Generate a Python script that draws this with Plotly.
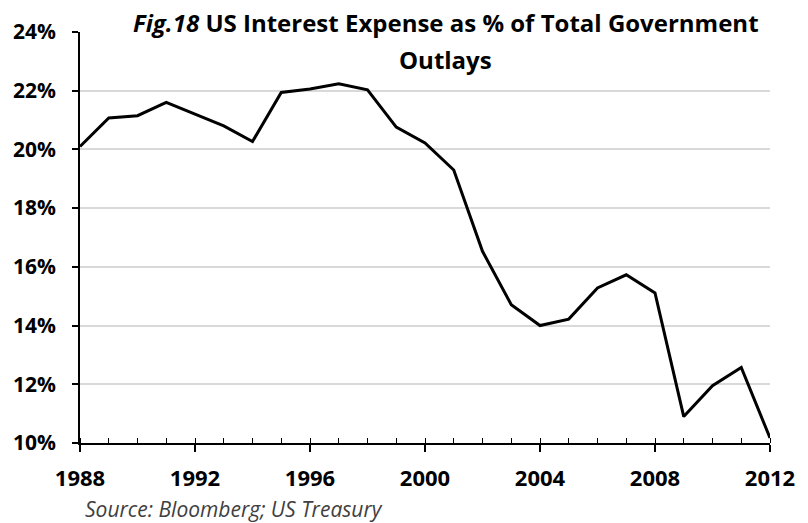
import plotly.graph_objects as go

years = list(range(1988, 2013))
interest_pct = [20.10, 21.07, 21.15, 21.60, 21.20, 20.80, 20.27, 21.94, 22.06, 22.24,
                22.03, 20.76, 20.22, 19.30, 16.53, 14.71, 14.00, 14.22, 15.28, 15.73,
                15.11, 10.90, 11.95, 12.57, 10.17]
y_ticks = [10, 12, 14, 16, 18, 20, 22, 24]
x_ticks = [1988, 1992, 1996, 2000, 2004, 2008, 2012]

FONT = "Open Sans"

fig = go.Figure()
fig.add_trace(go.Scatter(x=years, y=interest_pct, mode="lines",
                         line=dict(color="black", width=3), showlegend=False,
                         hoverinfo="skip"))

fig.update_layout(
    width=808, height=523,
    margin=dict(l=80, r=38, t=32, b=80, autoexpand=False),
    paper_bgcolor="white", plot_bgcolor="white",
    font=dict(family=FONT, color="black"),
    xaxis=dict(range=[1988, 2012], tickvals=x_ticks, ticktext=[f"<b>{v}</b>" for v in x_ticks],
               showgrid=False, zeroline=False, showline=True, linecolor="black", linewidth=1.5,
               ticks="outside", ticklen=7, tickwidth=1.5, tickcolor="black",
               ticklabelstandoff=8,
               tickfont=dict(family=FONT, size=22, color="black"),
               minor=dict(dtick=1, tick0=1988, ticks="inside", ticklen=5, tickwidth=1.2,
                          tickcolor="black", showgrid=False)),
    xaxis2=dict(range=[1988, 2012], overlaying="x", anchor="y", side="bottom",
                tickvals=x_ticks, showticklabels=False, ticks="inside", ticklen=5,
                tickwidth=1.5, tickcolor="black", showgrid=False, zeroline=False,
                showline=False),
    yaxis=dict(range=[10, 24], tickvals=y_ticks, ticktext=[f"<b>{v}%</b>" for v in y_ticks],
               showgrid=True, gridcolor="#d9d9d9", gridwidth=1.5, zeroline=False,
               showline=True, linecolor="black", linewidth=1.5,
               ticks="outside", ticklen=6, tickwidth=1.5, tickcolor="black",
               ticklabelstandoff=12,
               tickfont=dict(family=FONT, size=21, color="black")),
)

fig.add_annotation(
    text="<b><i>Fig.18</i> US Interest Expense as % of Total Government</b>",
    xref="paper", yref="paper", x=0.530, y=1.022, xanchor="center", yanchor="middle",
    showarrow=False, font=dict(family=FONT, size=24, color="black"))
fig.add_annotation(
    text="<b>Outlays</b>",
    xref="paper", yref="paper", x=0.530, y=0.934, xanchor="center", yanchor="middle",
    showarrow=False, font=dict(family=FONT, size=24, color="black"))

fig.add_annotation(
    text="<i>Source: Bloomberg; US Treasury</i>",
    xref="paper", yref="paper", x=0.004, y=-0.161, xanchor="left", yanchor="middle",
    showarrow=False, font=dict(family=FONT, size=21, color="#404040"))

fig.write_html("out.html", config={"displayModeBar": False},
               post_script="document.body.style.margin='0';")
